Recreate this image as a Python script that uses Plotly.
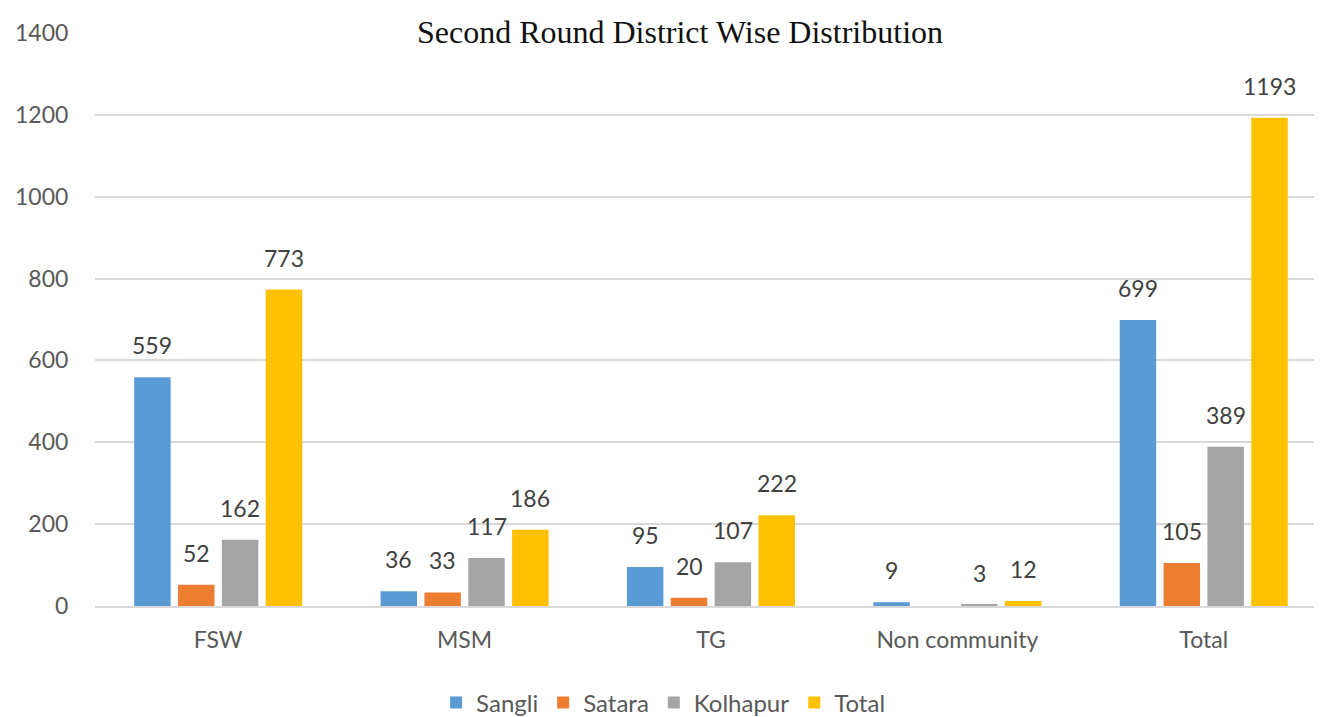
import plotly.graph_objects as go
import numpy as np

categories = ["FSW", "MSM", "TG", "Non community", "Total"]
sangli = [559, 36, 95, 9, 699]
satara = [52, 33, 20, 0, 105]
kolhapur = [162, 117, 107, 3, 389]
total = [773, 186, 222, 12, 1193]
series_names = ["Sangli", "Satara", "Kolhapur", "Total"]
colors = ["#5B9BD5", "#ED7D31", "#A5A5A5", "#FFC000"]
y_ticks = [0, 200, 400, 600, 800, 1000, 1200, 1400]

series = [sangli, satara, kolhapur, total]
xpos = np.arange(len(categories))
step = 0.178
width = 0.148

fig = go.Figure()
annotations = []
for k, (name, vals, col) in enumerate(zip(series_names, series, colors)):
    off = (k - 1.5) * step
    fig.add_trace(go.Bar(
        x=xpos + off, y=vals, width=width, name=name,
        marker=dict(color=col, line=dict(width=0)),
    ))
    for xi, v in zip(xpos, vals):
        if v:
            annotations.append(dict(
                x=xi + off, y=v, xref="x", yref="y", text=str(v),
                showarrow=False, yanchor="bottom", yshift=16,
                font=dict(family="Lato", size=23, color="#404040"),
            ))

fig.update_layout(
    width=1314, height=709,
    margin=dict(l=87, r=0, t=25, b=111, autoexpand=False),
    paper_bgcolor="white", plot_bgcolor="white",
    barmode="overlay",
    title=dict(text="Second Round District Wise Distribution",
               x=0.5114, xanchor="center", y=0.966, yanchor="middle",
               font=dict(family="Liberation Serif", size=32, color="#111111")),
    xaxis=dict(range=[-0.5, 4.48], tickmode="array", tickvals=list(xpos),
               ticktext=categories, showgrid=False, zeroline=False,
               automargin=False,
               showline=True, linecolor="#D9D9D9", linewidth=2,
               ticks="outside", ticklen=12, tickcolor="rgba(0,0,0,0)",
               tickfont=dict(family="Lato", size=23, color="#595959")),
    yaxis=dict(range=[0, 1400], tickmode="array", tickvals=y_ticks,
               showgrid=True, gridcolor="#D9D9D9", gridwidth=2,
               zeroline=False, ticks="outside", ticklen=21,
               automargin=False,
               tickcolor="rgba(0,0,0,0)",
               tickfont=dict(family="Lato", size=23, color="#595959")),
    legend=dict(orientation="h", x=0.463, xanchor="center",
                yref="paper", y=-0.169, yanchor="middle",
                font=dict(family="Lato", size=24, color="#595959"),
                itemwidth=30, traceorder="normal"),
    annotations=annotations,
    showlegend=True,
)
fig.write_html("out.html")
